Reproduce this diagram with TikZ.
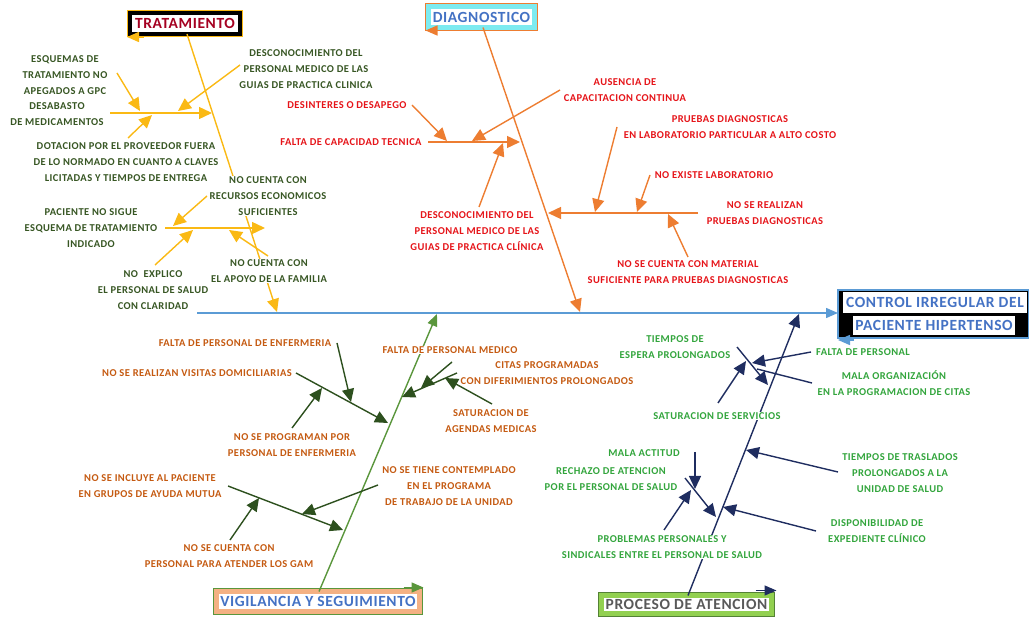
\documentclass[tikz,border=0pt]{standalone}
\usepackage{fontspec}
\setmainfont{Carlito}[LetterSpace=4]
\usetikzlibrary{arrows.meta}
\definecolor{SpineBlue}{RGB}{91,155,213}
\definecolor{TitleBlue}{RGB}{68,114,196}
\definecolor{TrGold}{RGB}{250,185,20}
\definecolor{TrRed}{RGB}{165,0,33}
\definecolor{TrText}{RGB}{55,86,35}
\definecolor{DxOrange}{RGB}{237,125,49}
\definecolor{DxCyan}{RGB}{125,235,240}
\definecolor{DxRed}{RGB}{230,20,25}
\definecolor{VgGreen}{RGB}{90,150,60}
\definecolor{VgDark}{RGB}{45,80,30}
\definecolor{VgSalmon}{RGB}{244,177,131}
\definecolor{VgText}{RGB}{197,90,17}
\definecolor{PaNavy}{RGB}{31,45,96}
\definecolor{PaLight}{RGB}{146,208,80}
\definecolor{PaDark}{RGB}{84,130,53}
\definecolor{PaText}{RGB}{50,165,60}
\definecolor{PaGray}{RGB}{89,89,89}
\newcommand\causefont{\fontsize{10.5}{15.8}\selectfont\bfseries}
\newcommand\boxfont{\fontsize{15.5}{18}\selectfont\bfseries}
\tikzset{
  cause/.style={align=center,fill=white,inner sep=0.5pt,font=\causefont},
  trcause/.style={cause,text=TrText},
  dxcause/.style={cause,text=DxRed},
  vgcause/.style={cause,text=VgText},
  pacause/.style={cause,text=PaText},
  titlebox/.style={rectangle,fill=white,inner sep=0pt,outer sep=0pt,font=\boxfont},
  headbox/.style={rectangle,fill=black,draw=SpineBlue,line width=1.5pt,outer sep=0pt,
    minimum width=191pt,minimum height=48pt},
  headline/.style={fill=white,inner sep=0pt,text=TitleBlue,font=\boxfont},
  spine/.style={draw=SpineBlue,line width=1.5pt,-{Triangle[length=12pt,width=10pt]}},
  trline/.style={draw=TrGold,line width=1.4pt,-{Triangle[length=13pt,width=12pt]}},
  dxline/.style={draw=DxOrange,line width=1.4pt,-{Triangle[length=13pt,width=12pt]}},
  vgbone/.style={draw=VgGreen,line width=1.4pt,-{Triangle[length=12pt,width=10pt]}},
  vgline/.style={draw=VgDark,line width=1.4pt,-{Triangle[length=13pt,width=12pt]}},
  paline/.style={draw=PaNavy,line width=1.4pt,-{Triangle[length=13pt,width=12pt]}},
  corner/.style={line width=1.5pt,-{Triangle[length=12pt,width=10pt]}}
}

\begin{document}
\begin{tikzpicture}[x=1pt,y=-1pt]
\useasboundingbox (0,0) rectangle (1029,617);

\node[titlebox,draw=black,line width=4pt,preaction={draw=TrGold,line width=6pt},
  text=TrRed,minimum width=110pt,minimum height=21pt] (tratamiento) at (185,23.5) {TRATAMIENTO};
\node[titlebox,draw=DxCyan,line width=5pt,preaction={draw=DxOrange,line width=7pt},
  text=TitleBlue,minimum width=106pt,minimum height=21pt] (diagnostico) at (481.5,17) {DIAGNOSTICO};
\node[titlebox,draw=VgSalmon,line width=5pt,preaction={draw=VgGreen,line width=7pt},
  text=TitleBlue,minimum width=203pt,minimum height=20pt] (vigilancia) at (318,601.5) {VIGILANCIA Y SEGUIMIENTO};
\node[titlebox,draw=PaLight,line width=5pt,preaction={draw=PaDark,line width=7pt},
  text=PaGray,minimum width=170pt,minimum height=18pt] (proceso) at (686.5,604.5) {PROCESO DE ATENCION};
\node[headbox] (control) at (933.5,314) {};
\node[headline,minimum width=184pt,minimum height=21pt] (controlTop) at (935,302.5) {CONTROL IRREGULAR DEL};
\node[headline,minimum width=162pt,minimum height=19pt] (controlBottom) at (934,325.5) {PACIENTE HIPERTENSO};

\draw[corner,TrGold] ([xshift=14pt,yshift=-3pt]tratamiento.south west) -- ([xshift=-3pt,yshift=-3pt]tratamiento.south west);
\draw[corner,DxOrange] ([xshift=14pt,yshift=-3pt]diagnostico.south west) -- ([xshift=-3pt,yshift=-3pt]diagnostico.south west);
\draw[corner,SpineBlue] ([xshift=16pt,yshift=-2pt]control.south west) -- ([yshift=-2pt]control.south west);
\draw[corner,VgGreen] ([xshift=-16pt,yshift=4pt]vigilancia.north east) -- ([xshift=4pt,yshift=4pt]vigilancia.north east);
\draw[corner,PaNavy] ([xshift=-16pt,yshift=5pt]proceso.north east) -- ([xshift=5pt,yshift=5pt]proceso.north east);

\coordinate (spineStart) at (197,313);
\coordinate (trEnd) at (277,312);
\coordinate (dxEnd) at (580,312);
\coordinate (vgEnd) at (437,314);
\coordinate (paEnd) at (799,314);
\draw[spine] (spineStart) -- (spineStart -| control.west);
\draw[trline] ([xshift=2pt]tratamiento.south) -- (trEnd);
\draw[dxline] ([xshift=1.5pt]diagnostico.south) -- (dxEnd);
\draw[vgbone] ([xshift=1pt]vigilancia.north) -- (vgEnd);
\draw[paline] ([xshift=1.5pt]proceso.north) -- (paEnd);

\node[trcause] (esquemas) at (65,75) {ESQUEMAS DE\\TRATAMIENTO NO\\APEGADOS A GPC};
\node[trcause] (desabasto) at (57,114) {DESABASTO\\DE MEDICAMENTOS};
\node[trcause] (desconocTr) at (306,69) {DESCONOCIMIENTO DEL\\PERSONAL MEDICO DE LAS\\GUIAS DE PRACTICA CLINICA};
\node[trcause] (dotacion) at (126,162) {DOTACION POR EL PROVEEDOR FUERA\\DE LO NORMADO EN CUANTO A CLAVES\\LICITADAS Y TIEMPOS DE ENTREGA};
\node[trcause] (recursos) at (268,196) {NO CUENTA CON\\RECURSOS ECONOMICOS\\SUFICIENTES};
\node[trcause] (noSigue) at (91,228) {PACIENTE NO SIGUE\\ESQUEMA DE TRATAMIENTO\\INDICADO};
\node[trcause] (explico) at (153,290) {NO\ \ EXPLICO\\EL PERSONAL DE SALUD\\CON CLARIDAD};
\node[trcause] (familia) at (269,271) {NO CUENTA CON\\EL APOYO DE LA FAMILIA};

\node[dxcause] (desinteres) at (347,105) {DESINTERES O DESAPEGO};
\node[dxcause] (capacidad) at (351,142) {FALTA DE CAPACIDAD TECNICA};
\node[dxcause] (ausencia) at (625,90) {AUSENCIA DE\\CAPACITACION CONTINUA};
\node[dxcause] (desconocDx) at (477,231) {DESCONOCIMIENTO DEL\\PERSONAL MEDICO DE LAS\\GUIAS DE PRACTICA CLÍNICA};
\node[dxcause] (particular) at (730,127) {PRUEBAS DIAGNOSTICAS\\EN LABORATORIO PARTICULAR A ALTO COSTO};
\node[dxcause] (noExiste) at (714,175) {NO EXISTE LABORATORIO};
\node[dxcause] (noRealizan) at (765,213) {NO SE REALIZAN\\PRUEBAS DIAGNOSTICAS};
\node[dxcause] (material) at (688,272) {NO SE CUENTA CON MATERIAL\\SUFICIENTE PARA PRUEBAS DIAGNOSTICAS};

\node[vgcause] (faltaEnf) at (245,343) {FALTA DE PERSONAL DE ENFERMERIA};
\node[vgcause] (visitas) at (197,373) {NO SE REALIZAN VISITAS DOMICILIARIAS};
\node[vgcause] (programan) at (292,445) {NO SE PROGRAMAN POR\\PERSONAL DE ENFERMERIA};
\node[vgcause] (incluye) at (150,486) {NO SE INCLUYE AL PACIENTE\\EN GRUPOS DE AYUDA MUTUA};
\node[vgcause] (gam) at (229,556) {NO SE CUENTA CON\\PERSONAL PARA ATENDER LOS GAM};
\node[vgcause] (contemplado) at (449,486) {NO SE TIENE CONTEMPLADO\\EN EL PROGRAMA\\DE TRABAJO DE LA UNIDAD};
\node[vgcause] (faltaMed) at (450,350) {FALTA DE PERSONAL MEDICO};
\node[vgcause] (citas) at (547,373) {CITAS PROGRAMADAS\\CON DIFERIMIENTOS PROLONGADOS};
\node[vgcause] (agendas) at (491,421) {SATURACION DE\\AGENDAS MEDICAS};

\node[pacause] (espera) at (675,347) {TIEMPOS DE\\ESPERA PROLONGADOS};
\node[pacause] (faltaPer) at (863,352) {FALTA DE PERSONAL};
\node[pacause] (organizacion) at (894,383) {MALA ORGANIZACIÓN\\EN LA PROGRAMACION DE CITAS};
\node[pacause] (servicios) at (717,416) {SATURACION DE SERVICIOS};
\node[pacause] (traslados) at (900,473) {TIEMPOS DE TRASLADOS\\PROLONGADOS A LA\\UNIDAD DE SALUD};
\node[pacause] (expediente) at (877,531) {DISPONIBILIDAD DE\\EXPEDIENTE CLÍNICO};
\node[pacause] (actitud) at (644,453) {MALA ACTITUD};
\node[pacause] (rechazo) at (611,479) {RECHAZO DE ATENCION\\POR EL PERSONAL DE SALUD};
\node[pacause] (problemas) at (662,547) {PROBLEMAS PERSONALES Y\\SINDICALES ENTRE EL PERSONAL DE SALUD};

\coordinate (trA) at (110,113);    \coordinate (trAend) at (212,113);
\coordinate (trA1s) at (117,73);   \coordinate (trA1) at (140,111);
\coordinate (trA2s) at (240,65);   \coordinate (trA2) at (178,111);
\coordinate (trA3s) at (128,138);  \coordinate (trA3) at (152,115);
\coordinate (trB) at (165,228);    \coordinate (trBend) at (265,228);
\coordinate (trB1s) at (207,196);  \coordinate (trB1) at (173,226);
\coordinate (trB2s) at (155,265);  \coordinate (trB2) at (193,230);
\coordinate (trB3s) at (268,256);  \coordinate (trB3) at (229,230);
\foreach \s/\e in {trA/trAend,trA1s/trA1,trA2s/trA2,trA3s/trA3,
                   trB/trBend,trB1s/trB1,trB2s/trB2,trB3s/trB3}
  \draw[trline] (\s) -- (\e);

\coordinate (dxC) at (428,142);    \coordinate (dxCend) at (520,142);
\coordinate (dxC1s) at (412,105);  \coordinate (dxC1) at (447,141);
\coordinate (dxC2s) at (560,90);   \coordinate (dxC2) at (472,141);
\coordinate (dxC3s) at (479,207);  \coordinate (dxC3) at (503,143);
\coordinate (dxD) at (698,213);    \coordinate (dxDend) at (548,213);
\coordinate (dxD1s) at (617,127);  \coordinate (dxD1) at (595,212);
\coordinate (dxD2s) at (650,175);  \coordinate (dxD2) at (637,212);
\coordinate (dxD3s) at (688,257);  \coordinate (dxD3) at (668,214);
\foreach \s/\e in {dxC/dxCend,dxC1s/dxC1,dxC2s/dxC2,dxC3s/dxC3,
                   dxD/dxDend,dxD1s/dxD1,dxD2s/dxD2,dxD3s/dxD3}
  \draw[dxline] (\s) -- (\e);

\coordinate (vgE) at (296,373);    \coordinate (vgEend) at (388,423);
\coordinate (vgE1s) at (337,343);  \coordinate (vgE1) at (351,402);
\coordinate (vgE2s) at (292,428);  \coordinate (vgE2) at (322,388);
\coordinate (vgF) at (228,486);    \coordinate (vgFend) at (343,530);
\coordinate (vgF1s) at (378,485);  \coordinate (vgF1) at (302,514);
\coordinate (vgF2s) at (230,540);  \coordinate (vgF2) at (259,498);
\coordinate (vgG) at (457,373);    \coordinate (vgGend) at (402,397);
\coordinate (vgG1s) at (452,362);  \coordinate (vgG1) at (421,388);
\coordinate (vgG2s) at (492,404);  \coordinate (vgG2) at (445,378);
\foreach \s/\e in {vgE/vgEend,vgE1s/vgE1,vgE2s/vgE2,vgF/vgFend,
                   vgF1s/vgF1,vgF2s/vgF2,vgG/vgGend,vgG1s/vgG1,vgG2s/vgG2}
  \draw[vgline] (\s) -- (\e);

\coordinate (paH) at (737,347);    \coordinate (paHend) at (768,385);
\coordinate (paH1s) at (811,352);  \coordinate (paH1) at (752,363);
\coordinate (paH2s) at (718,403);  \coordinate (paH2) at (746,361);
\coordinate (paH3s) at (812,383);  \coordinate (paH3) at (757,369);
\coordinate (paIs) at (838,472);   \coordinate (paI) at (746,450);
\coordinate (paJs) at (816,531);   \coordinate (paJ) at (723,507);
\coordinate (paK) at (685,478);    \coordinate (paKend) at (716,517);
\coordinate (paK1s) at (695,452);  \coordinate (paK1) at (695,489);
\coordinate (paK2s) at (664,530);  \coordinate (paK2) at (691,490);
\foreach \s/\e in {paH/paHend,paH1s/paH1,paH2s/paH2,paIs/paI,
                   paJs/paJ,paK/paKend,paK1s/paK1,paK2s/paK2}
  \draw[paline] (\s) -- (\e);
\draw[draw=PaNavy,line width=1.4pt] (paH3s) -- (paH3);
\end{tikzpicture}
\end{document}
